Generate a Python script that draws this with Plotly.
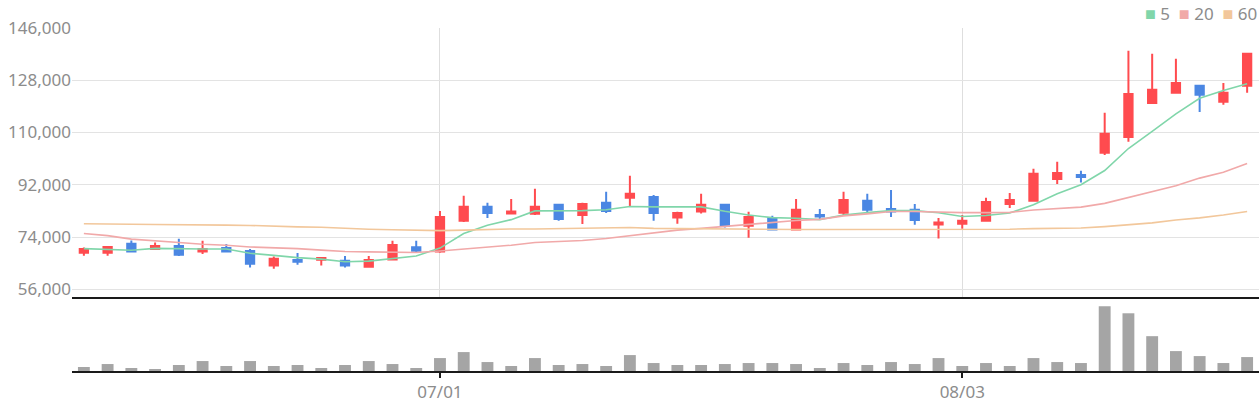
import plotly.graph_objects as go
from plotly.subplots import make_subplots

dates = ["06/10", "06/11", "06/12", "06/15", "06/16", "06/17", "06/18", "06/19", "06/22", "06/23",
         "06/24", "06/25", "06/26", "06/29", "06/30",
         "07/01", "07/02", "07/03", "07/06", "07/07", "07/08", "07/09", "07/10", "07/13", "07/14",
         "07/15", "07/16", "07/20", "07/21", "07/22", "07/23", "07/24", "07/27", "07/28", "07/29",
         "07/30", "07/31",
         "08/03", "08/04", "08/05", "08/06", "08/07", "08/10", "08/11", "08/12", "08/13", "08/14",
         "08/18", "08/19", "08/20"]

open_p = [68600, 68600, 71700, 69900, 70900, 69000, 70200, 69200, 64200, 66100,
          66200, 65800, 63800, 66300, 70500, 69000, 79600, 84400, 82100, 82000,
          85100, 81600, 85800, 87500, 87800, 80700, 82800, 85100, 77900, 80600,
          76600, 81600, 82400, 86500, 83700, 83400, 78300, 78600, 79600, 85400,
          86500, 94000, 95400, 103000, 108500, 120200, 123700, 126100, 120600, 126100]
high_p = [70400, 70600, 72800, 72100, 73400, 72700, 71600, 69900, 67300, 68500,
          67100, 67500, 67500, 72700, 72700, 83000, 88200, 85800, 87100, 90600,
          85400, 85800, 89600, 95100, 88500, 82700, 88900, 85100, 82700, 81300,
          87100, 83700, 89600, 88900, 90200, 85400, 80600, 81600, 87500, 89200,
          97500, 99900, 96800, 116800, 138200, 137100, 135400, 126100, 127100, 137100]
low_p = [67600, 67600, 69000, 69600, 67500, 68200, 69000, 63500, 63100, 64500,
         64200, 63500, 63500, 66100, 68600, 68600, 79200, 80600, 82100, 81600,
         79600, 78500, 82300, 84700, 79600, 78600, 82100, 77300, 73800, 76600,
         76600, 80200, 81300, 82000, 80900, 78200, 73500, 76900, 79600, 84000,
         86500, 92300, 92800, 102300, 106800, 119900, 123700, 117100, 119600, 123700]
close_p = [69900, 70600, 69000, 70900, 67900, 69900, 69000, 64800, 66500, 65500,
           66800, 64200, 66100, 71300, 69300, 80900, 84400, 82300, 82800, 84400,
           80200, 85400, 83000, 88900, 82300, 82300, 85100, 77900, 80900, 76600,
           83400, 81100, 86800, 83400, 82800, 79900, 79000, 79600, 86100, 86800,
           95800, 96100, 94700, 109600, 123300, 124700, 127100, 123000, 123700, 137100]

ma5 = [70000, 69800, 69450, 70100, 69900, 69900, 69900, 68400, 67700, 66900,
       66400, 65500, 65700, 66600, 67500, 70200, 75200, 78100, 80000, 83000,
       83000, 83100, 83400, 84500, 84400, 84400, 84400, 82900, 81600, 80700,
       80500, 80000, 81600, 82400, 83100, 83100, 82400, 81100, 81400, 82300,
       85100, 88900, 92000, 96900, 104500, 110400, 116400, 121800, 124500, 126800]
ma20 = [75200, 74500, 73300, 72600, 72100, 71500, 71200, 70600, 70350, 70000,
        69500, 69000, 68900, 68700, 68700, 69200, 69800, 70500, 71200, 72100,
        72400, 72800, 73500, 74400, 75400, 76400, 77000, 77700, 78400, 79100,
        79700, 80100, 81300, 82000, 82800, 82800, 82500, 82400, 82400, 82500,
        83300, 83800, 84300, 85600, 87700, 89700, 91700, 94300, 96300, 99300]
ma60 = [78600, 78600, 78400, 78300, 78300, 78300, 78100, 78000, 77700, 77500,
        77400, 77000, 76700, 76500, 76300, 76200, 76400, 76700, 76800, 76800,
        76900, 77000, 77100, 77300, 77000, 76900, 76900, 76800, 76800, 76700,
        76600, 76600, 76600, 76600, 76600, 76600, 76600, 76600, 76600, 76700,
        76900, 77000, 77100, 77600, 78200, 78900, 79900, 80600, 81600, 82800]

volume = [12000, 21000, 9000, 6000, 18000, 30000, 15000, 30000, 15000, 18000,
          9000, 18000, 30000, 21000, 9000, 39000, 57000, 27000, 15000, 39000,
          18000, 21000, 15000, 48000, 24000, 18000, 18000, 21000, 24000, 24000,
          21000, 9000, 24000, 18000, 27000, 21000, 39000, 15000, 24000, 15000,
          39000, 27000, 24000, 195000, 174000, 105000, 60000, 45000, 24000, 42000]

price_ticks = [56000, 74000, 92000, 110000, 128000, 146000]
date_ticks = ["07/01", "08/03"]
ma_names = ["5", "20", "60"]

RED = "#ff4b4f"
BLUE = "#4b87e3"
MA_COLORS = ["#80d6aa", "#f1a9a9", "#f2c79b"]
GRAY_TXT = "#8c8c8c"
AXIS_BLACK = "#1a1a1a"

fig = make_subplots(rows=2, cols=1, shared_xaxes=True, vertical_spacing=0,
                    row_heights=[0.7843, 0.2157])

fig.add_trace(go.Candlestick(
    x=dates, open=open_p, high=high_p, low=low_p, close=close_p,
    increasing=dict(line=dict(color=RED, width=2), fillcolor=RED),
    decreasing=dict(line=dict(color=BLUE, width=2), fillcolor=BLUE),
    whiskerwidth=0, showlegend=False, name="price"), row=1, col=1)

for name, vals, col in zip(ma_names, [ma5, ma20, ma60], MA_COLORS):
    fig.add_trace(go.Scatter(x=dates, y=vals, mode="lines", line=dict(color=col, width=1.6),
                             showlegend=False, name=name), row=1, col=1)

fig.add_trace(go.Bar(x=dates, y=volume, marker=dict(color="#a5a5a5", line=dict(width=0)),
                     width=0.5, showlegend=False, name="volume"), row=2, col=1)

# compact legend: coloured squares + labels as one text line
legend_txt = "\u00a0\u00a0".join(
    f"<span style='color:{c};font-size:18px'>\u25a0</span>\u00a0{n}"
    for n, c in zip(ma_names, MA_COLORS))
fig.add_annotation(text=legend_txt, xref="paper", yref="paper", x=1, y=1.045,
                   xanchor="right", yanchor="middle", showarrow=False,
                   font=dict(size=17, color=GRAY_TXT))

fig.update_layout(
    width=1260, height=400,
    margin=dict(l=72, r=1, t=28, b=29, autoexpand=False),
    paper_bgcolor="white", plot_bgcolor="white",
    font=dict(family="Noto Sans", size=17, color=GRAY_TXT),
    boxgap=0.5,
    showlegend=False,
)

fig.update_xaxes(type="category", range=[-0.5, 49.5], tickvals=date_ticks,
                 rangeslider_visible=False, showline=True, linecolor=AXIS_BLACK, linewidth=2)
fig.update_xaxes(showticklabels=False, ticks="", showgrid=True, gridcolor="#dedede",
                 gridwidth=1, row=1, col=1)
fig.update_xaxes(showgrid=False, ticks="outside", ticklen=5, tickwidth=2, tickcolor=AXIS_BLACK,
                 tickfont=dict(size=17, color=GRAY_TXT), row=2, col=1)

fig.update_yaxes(range=[53350, 146000], tickvals=price_ticks, tickformat=",",
                 gridcolor="#e3e3e3", gridwidth=1, zeroline=False, showline=False,
                 tickfont=dict(size=17, color=GRAY_TXT), row=1, col=1)
fig.update_yaxes(range=[0, 223000], showticklabels=False, showgrid=False, zeroline=False,
                 row=2, col=1)

# the page body has a default 8px margin; drop it so the figure sits at the window origin
fig.write_html("out.html", config={"displayModeBar": False},
               post_script="document.body.style.margin = '0';")
